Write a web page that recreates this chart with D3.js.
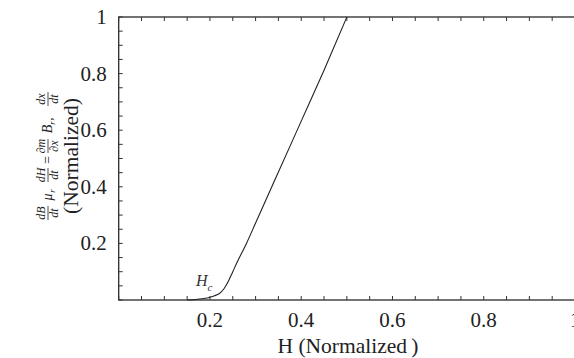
<!DOCTYPE html>
<html>
<head>
<meta charset="utf-8">
<script src="https://cdn.jsdelivr.net/npm/d3@7"></script>
<style>
  body { margin: 0; background: #fff; }
  svg { display: block; }
  text { font-family: "Liberation Serif", "Times New Roman", Tinos, "DejaVu Serif", serif; }
</style>
</head>
<body>
<div id="container"></div>
<script>
let w = 574;
let h = 358;

// curve
let hValues = [0.15, 0.17, 0.19, 0.20, 0.21, 0.22, 0.23, 0.24, 0.25, 0.26, 0.28, 0.30, 0.35, 0.40, 0.45, 0.50];
let bValues = [0.0, 0.002, 0.006, 0.010, 0.015, 0.022, 0.038, 0.065, 0.10, 0.135, 0.20, 0.272, 0.452, 0.632, 0.812, 1.0];

let xTickLabels = [0.2, 0.4, 0.6, 0.8, 1];
let yTickLabels = [0.2, 0.4, 0.6, 0.8, 1];
let minorStep = 0.05;

let plotLeft = 118.7, plotRight = 575, plotTop = 17, plotBottom = 300;

let viz = d3.select("#container").append("svg")
    .attr("width", w)
    .attr("height", h);

let x = d3.scaleLinear().domain([0, 1]).range([plotLeft, plotRight]);
let y = d3.scaleLinear().domain([0, 1]).range([plotBottom, plotTop]);

let minorTicks = d3.range(0, 1.0001, minorStep);

// frame
viz.append("rect")
    .attr("x", plotLeft)
    .attr("y", plotTop)
    .attr("width", plotRight - plotLeft)
    .attr("height", plotBottom - plotTop)
    .attr("fill", "none")
    .attr("stroke", "#2a2a2a")
    .attr("stroke-width", 1.3);

// ticks, pointing inwards
let tickLen = 4;
let tickGroup = viz.append("g").attr("stroke", "#333").attr("stroke-width", 1);
minorTicks.forEach(function(t) {
  tickGroup.append("line").attr("x1", x(t)).attr("x2", x(t)).attr("y1", plotBottom).attr("y2", plotBottom - tickLen);
  tickGroup.append("line").attr("x1", x(t)).attr("x2", x(t)).attr("y1", plotTop).attr("y2", plotTop + tickLen);
  tickGroup.append("line").attr("x1", plotLeft).attr("x2", plotLeft + tickLen).attr("y1", y(t)).attr("y2", y(t));
});

// tick labels
viz.selectAll(".xlab").data(xTickLabels).enter()
  .append("text")
    .attr("class", "xlab")
    .attr("x", function(d) { return x(d); })
    .attr("y", plotBottom + 27)
    .attr("text-anchor", "middle")
    .attr("font-size", 21)
    .attr("fill", "#222")
    .text(function(d) { return d3.format("")(d); });

viz.selectAll(".ylab").data(yTickLabels).enter()
  .append("text")
    .attr("class", "ylab")
    .attr("x", plotLeft - 12)
    .attr("y", function(d) { return y(d) + 7; })
    .attr("text-anchor", "end")
    .attr("font-size", 21)
    .attr("fill", "#222")
    .text(function(d) { return d3.format("")(d); });

// x axis title
viz.append("text")
    .attr("x", 348)
    .attr("y", 353)
    .attr("text-anchor", "middle")
    .attr("font-size", 21.5)
    .attr("fill", "#222")
    .text("H (Normalized\u2009)");

// y axis title, rotated: formula line + "(Normalized)"
let yTitle = viz.append("g").attr("transform", "translate(74,156) rotate(-90)");
yTitle.append("text")
    .attr("x", 0)
    .attr("y", 4)
    .attr("text-anchor", "middle")
    .attr("font-size", 21.5)
    .attr("fill", "#222")
    .text("(Normalized)");

let formula = viz.append("g").attr("transform", "translate(48,156) rotate(-90)");
function frac(cx, num, den) {
  formula.append("text").attr("x", cx).attr("y", -3).attr("text-anchor", "middle")
      .attr("font-style", "italic").attr("font-size", 12).attr("fill", "#222").text(num);
  formula.append("line").attr("x1", cx - 7).attr("x2", cx + 7).attr("y1", 0).attr("y2", 0)
      .attr("stroke", "#222").attr("stroke-width", 0.8);
  formula.append("text").attr("x", cx).attr("y", 10).attr("text-anchor", "middle")
      .attr("font-style", "italic").attr("font-size", 12).attr("fill", "#222").text(den);
}
function sym(cx, cy, s, size, italic) {
  formula.append("text").attr("x", cx).attr("y", cy).attr("text-anchor", "middle")
      .attr("font-style", italic ? "italic" : "normal")
      .attr("font-size", size).attr("fill", "#222").text(s);
}
frac(-57, "dB", "dt");
sym(-41, 4, "μ", 14, true);
sym(-35, 7, "r", 9, true);
frac(-19, "dH", "dt");
sym(-4, 4, "=", 14, false);
frac(10, "∂m", "∂x");
sym(27, 4, "B", 14, true);
sym(33, 7, "r", 9, true);
sym(37, 4, ",", 13, false);
frac(57, "dx", "dt");

// curve
let pts = hValues.map(function(d, i) { return [d, bValues[i]]; });
let line = d3.line()
    .x(function(d) { return x(d[0]); })
    .y(function(d) { return y(d[1]); })
    .curve(d3.curveMonotoneX);
viz.append("path")
    .attr("d", line(pts))
    .attr("fill", "none")
    .attr("stroke", "#222")
    .attr("stroke-width", 1.1);

// Hc label
let hc = viz.append("text")
    .attr("x", 196)
    .attr("y", 286)
    .attr("font-style", "italic")
    .attr("font-size", 16)
    .attr("fill", "#333");
hc.append("tspan").text("H");
hc.append("tspan").attr("dy", 5).attr("font-size", 11).text("c");
</script>
</body>
</html>
